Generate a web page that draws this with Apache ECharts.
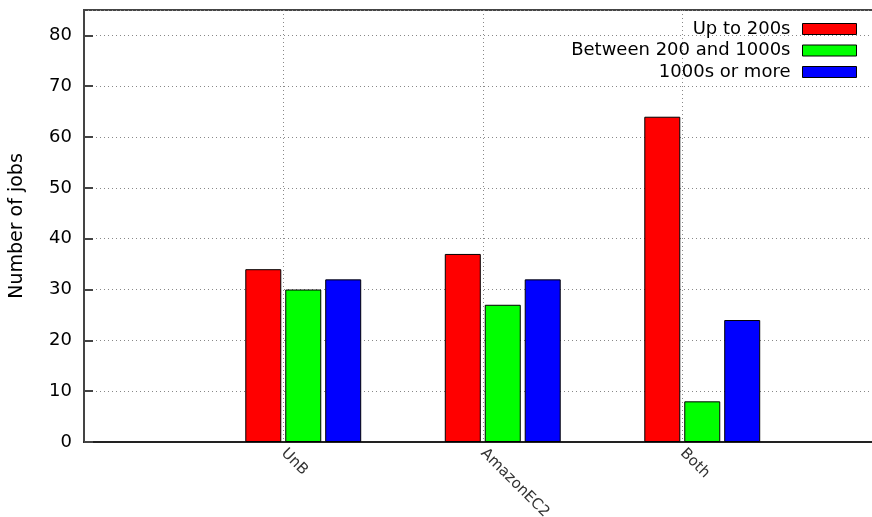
<!DOCTYPE html>
<html>
<head>
<meta charset="utf-8">
<script src="https://cdn.jsdelivr.net/npm/echarts@6/dist/echarts.min.js"></script>
<style>
  html, body { margin: 0; padding: 0; background: #fff; }
  #chart { width: 872px; height: 517px; }
</style>
</head>
<body>
<div id="chart"></div>
<script>
// Job counts per environment, grouped by run time
const categories = ['UnB', 'AmazonEC2', 'Both'];
const seriesNames = ['Up to 200s', 'Between 200 and 1000s', '1000s or more'];
const upTo200 = [34, 37, 64];
const between200And1000 = [30, 27, 8];
const over1000 = [32, 32, 24];
const yTicks = [0, 10, 20, 30, 40, 50, 60, 70, 80];

const seriesValues = [upTo200, between200And1000, over1000];
const seriesColors = ['#ff0000', '#00ff00', '#0000ff'];
const FONT = 'DejaVu Sans';

const chart = echarts.init(document.getElementById('chart'), null, { renderer: 'canvas' });

const legendTops = [20, 41.5, 63];

const option = {
  animation: false,
  backgroundColor: '#fff',
  textStyle: { fontFamily: FONT },
  grid: [
    // frame, grid lines and tick labels; the right side runs past the canvas edge
    { left: 84, top: 10, width: 798, height: 432, show: true, borderColor: '#444', borderWidth: 2,
      backgroundColor: 'transparent', containLabel: false, outerBoundsMode: 'none' },
    // bar groups, one slot per category
    { left: 203.5, top: 10, width: 598.5, height: 432, containLabel: false, outerBoundsMode: 'none' }
  ],
  xAxis: [
    {
      gridIndex: 0, type: 'value', min: 0, max: categories.length + 1, interval: 1,
      axisLine: { show: true, lineStyle: { color: '#222', width: 2 } },
      axisTick: { show: false },
      splitLine: { show: true, lineStyle: { color: '#888', type: [1, 3], width: 1 } },
      axisLabel: {
        show: true, rotate: -45, fontSize: 15, color: '#333', fontFamily: FONT, margin: 9,
        showMinLabel: false, showMaxLabel: false,
        formatter: v => categories[v - 1] || ''
      }
    },
    {
      gridIndex: 1, type: 'category', data: categories,
      axisLine: { show: false }, axisTick: { show: false }, axisLabel: { show: false }, splitLine: { show: false }
    }
  ],
  yAxis: [
    {
      gridIndex: 0, type: 'value', min: yTicks[0], max: 85, interval: 10,
      name: 'Number of jobs', nameLocation: 'middle', nameGap: 57, nameRotate: 90,
      nameTextStyle: { fontSize: 19, color: '#000', fontFamily: FONT },
      axisLine: { show: true, lineStyle: { color: '#444', width: 2 } },
      axisTick: { show: true, inside: true, length: 9, lineStyle: { color: '#444', width: 2 } },
      splitLine: { show: true, lineStyle: { color: '#888', type: [1, 3], width: 1 } },
      axisLabel: {
        fontSize: 18, color: '#000', fontFamily: FONT, margin: 12, showMaxLabel: false,
        formatter: v => (yTicks.indexOf(v) >= 0 ? String(v) : '')
      }
    },
    {
      gridIndex: 1, type: 'value', min: 0, max: 85,
      axisLine: { show: false }, axisTick: { show: false }, axisLabel: { show: false }, splitLine: { show: false }
    }
  ],
  legend: seriesNames.map((name, i) => ({
    data: [name],
    right: 15, top: legendTops[i], orient: 'horizontal', align: 'right',
    padding: 0, itemWidth: 54, itemHeight: 11, selectedMode: false,
    icon: 'rect',
    itemStyle: { borderColor: '#000', borderWidth: 1 },
    textStyle: { fontSize: 18, color: '#000', fontFamily: FONT, padding: [0, 7, 0, 0] }
  })),
  series: seriesNames.map((name, i) => ({
    name: name,
    type: 'bar',
    xAxisIndex: 1, yAxisIndex: 1,
    data: seriesValues[i],
    barWidth: 36,
    barGap: '11%',
    itemStyle: { color: seriesColors[i], borderColor: '#000', borderWidth: 1 },
    emphasis: { disabled: true }
  }))
};

chart.setOption(option);
</script>
</body>
</html>
